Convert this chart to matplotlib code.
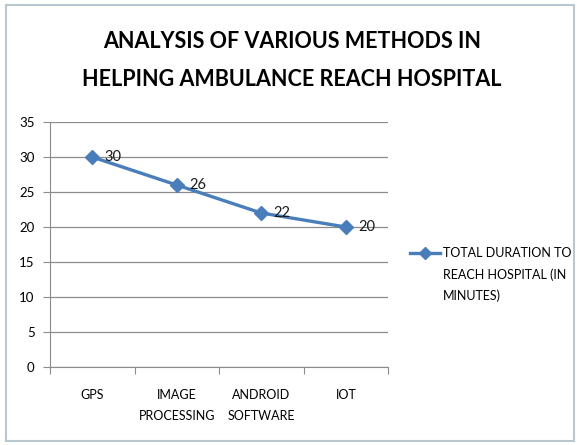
import matplotlib
matplotlib.use("Agg")
import matplotlib.pyplot as plt
from matplotlib.patches import Rectangle
from matplotlib.lines import Line2D

categories = ["GPS", "IMAGE\nPROCESSING", "ANDROID\nSOFTWARE", "IOT"]
values = [30, 26, 22, 20]
yticks = [0, 5, 10, 15, 20, 25, 30, 35]
series_lines = ["TOTAL DURATION TO", "REACH HOSPITAL (IN", "MINUTES)"]
title_lines = ["ANALYSIS OF VARIOUS METHODS IN", "HELPING AMBULANCE REACH HOSPITAL"]

W, H = 577, 445
fig = plt.figure(figsize=(W/100, H/100), dpi=100)
fig.patch.set_facecolor("white")
fig.patches.append(Rectangle((6/W, 4/H), 568/W, 436/H, transform=fig.transFigure,
                             fill=False, edgecolor="#b9c7cf", linewidth=1.5))

font = dict(family="Lato")
color = "#4a7ebb"

ax = fig.add_axes([50/W, 1-367/H, 338/W, 245/H])
x = list(range(len(categories)))
ax.plot(x, values, color=color, lw=2.4, marker="D", ms=7, mfc=color, mec=color, zorder=3)
for xi, v in zip(x, values):
    ax.annotate(str(v), (xi, v), xytext=(15, 0), textcoords="offset points",
                ha="center", va="center", fontsize=10.5, color="#1a1a1a", **font)
ax.set_xlim(-0.5, len(categories)-0.5)
ax.set_ylim(0, 35)
ax.set_yticks(yticks)
ax.set_yticklabels([str(t) for t in yticks], fontsize=9.5, **font)
ax.yaxis.grid(True, color="#8c8c8c", lw=0.9)
ax.set_axisbelow(True)
ax.set_xticks([i+0.5 for i in range(-1, len(categories))])
ax.set_xticklabels([])
ax.set_xticks(x, minor=True)
ax.set_xticklabels(categories, minor=True, fontsize=9, **font, linespacing=1.9)
ax.tick_params(axis="x", which="minor", length=0, pad=16)
ax.tick_params(axis="x", which="major", length=5, color="#8c8c8c", direction="out")
ax.tick_params(axis="y", length=5, color="#8c8c8c", pad=6)
for s in ["top", "right"]:
    ax.spines[s].set_visible(False)
for s in ["left", "bottom"]:
    ax.spines[s].set_color("#8c8c8c")

for ty, line in zip([42, 80], title_lines):
    fig.text(292/W, 1-ty/H, line, ha="center", va="center", fontsize=15.5,
             fontweight="bold", **font)

# legend (Excel style: handle aligned with first text line)
fig.add_artist(Line2D([410/W, 440/W], [1-253/H, 1-253/H], transform=fig.transFigure,
                      color=color, lw=2.4))
fig.add_artist(Line2D([425/W], [1-253/H], transform=fig.transFigure, color=color,
                      marker="D", ms=6, mfc=color, mec=color))
for ty, line in zip([253, 274.5, 296], series_lines):
    fig.text(443/W, 1-ty/H, line, ha="left", va="center", fontsize=9, **font)

fig.savefig("out.png", dpi=100)
